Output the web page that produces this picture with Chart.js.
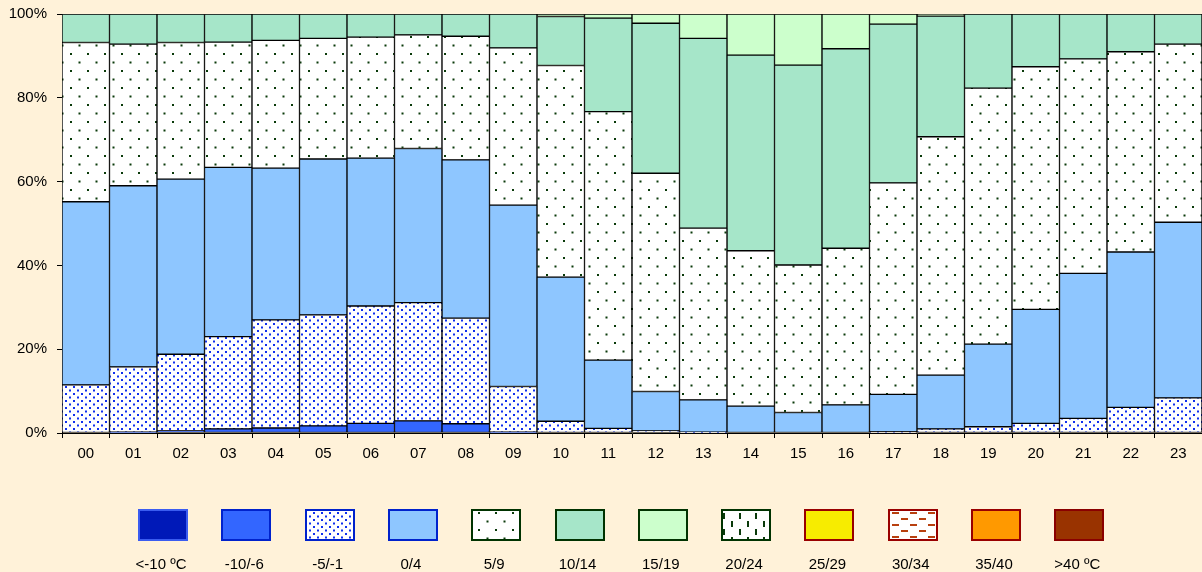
<!DOCTYPE html>
<html>
<head>
<meta charset="utf-8">
<script src="https://cdn.jsdelivr.net/npm/chart.js@4/dist/chart.umd.min.js"></script>
<style>
  html, body { margin: 0; padding: 0; background: #fff2d9; }
  #wrap { width: 1202px; height: 572px; position: relative; }
</style>
</head>
<body>
<div id="wrap"><canvas id="c" width="1202" height="572"></canvas></div>
<script>
// ---- data ----
const hours = ['00','01','02','03','04','05','06','07','08','09','10','11','12','13','14','15','16','17','18','19','20','21','22','23'];
const seriesNames = ['<-10 ºC','-10/-6','-5/-1','0/4','5/9','10/14','15/19','20/24','25/29','30/34','35/40','>40 ºC'];
const yTicks = [0, 20, 40, 60, 80, 100];

const sLt10   = [0,0,0,0,0,0,0,0,0,0,0,0,0,0,0,0,0,0,0,0,0,0,0,0];
const sM10_6  = [0,0.2,0.5,1.0,1.2,1.7,2.3,2.9,2.2,0.2,0,0,0,0,0,0,0,0,0,0,0,0,0,0];
const sM5_1   = [11.5,15.6,18.3,22.0,25.8,26.5,28.0,28.2,25.2,10.9,2.8,1.1,0.5,0.2,0,0,0,0.3,1.0,1.5,2.3,3.5,6.1,8.4];
const s0_4    = [43.7,43.2,41.8,40.4,36.2,37.2,35.3,36.8,37.8,43.3,34.4,16.3,9.4,7.7,6.4,4.9,6.7,8.9,12.8,19.7,27.2,34.6,37.1,41.9];
const s5_9    = [38.0,33.8,32.6,29.9,30.5,28.8,28.9,27.1,29.5,37.5,50.5,59.3,52.1,41.0,37.1,35.2,37.4,50.5,56.9,61.1,57.9,51.2,47.8,42.5];
const s10_14  = [6.8,7.2,6.8,6.7,6.3,5.8,5.5,5.0,5.3,8.1,11.7,22.3,35.8,45.3,46.7,47.7,47.6,37.9,28.8,17.7,12.6,10.7,9.0,7.2];
const s15_19  = [0,0,0,0,0,0,0,0,0,0,0.6,1.0,2.2,5.8,9.8,12.2,8.3,2.4,0.5,0,0,0,0,0];
const s20_24  = [0,0,0,0,0,0,0,0,0,0,0,0,0,0,0,0,0,0,0,0,0,0,0,0];
const s25_29  = [0,0,0,0,0,0,0,0,0,0,0,0,0,0,0,0,0,0,0,0,0,0,0,0];
const s30_34  = [0,0,0,0,0,0,0,0,0,0,0,0,0,0,0,0,0,0,0,0,0,0,0,0];
const s35_40  = [0,0,0,0,0,0,0,0,0,0,0,0,0,0,0,0,0,0,0,0,0,0,0,0];
const sGt40   = [0,0,0,0,0,0,0,0,0,0,0,0,0,0,0,0,0,0,0,0,0,0,0,0];

const seriesData = [sLt10, sM10_6, sM5_1, s0_4, s5_9, s10_14, s15_19, s20_24, s25_29, s30_34, s35_40, sGt40];

// ---- patterns ----
function makePattern(w, h, marks, color) {
  const cv = document.createElement('canvas');
  cv.width = w; cv.height = h;
  const x = cv.getContext('2d');
  x.fillStyle = '#ffffff';
  x.fillRect(0, 0, w, h);
  x.fillStyle = color;
  marks.forEach(m => x.fillRect(m[0], m[1], m[2], m[3]));
  return x.createPattern(cv, 'repeat');
}
const ctx = document.getElementById('c').getContext('2d');
const patBlueDots  = makePattern(8, 7, [[1,1,2,2],[5,4.5,2,2]], '#1030ee');
const patGreenDots = makePattern(17, 17, [[2,2,2,2],[10.5,10.5,2,2]], '#0a3a0a');
const patGreenDash = makePattern(16, 16, [[3,1,2,6],[11,9,2,6]], '#0a3a0a');
const patRedDash   = makePattern(18, 12, [[1,2,7,2],[10,8,7,2]], '#b8400f');

const fills = ['#0019b8', '#3366ff', patBlueDots, '#8ec6ff', patGreenDots, '#a6e6c9', '#ccffcc', patGreenDash, '#f7ec00', patRedDash, '#ff9900', '#993300'];
const legendBorders = ['#3a5cf0', '#0022cc', '#0022cc', '#0022cc', '#003300', '#003300', '#003300', '#003300', '#990000', '#990000', '#990000', '#8a0000'];

const datasets = seriesData.map((d, i) => ({
  label: seriesNames[i],
  data: d,
  backgroundColor: fills[i],
  borderColor: '#000000',
  borderWidth: 1,
  borderSkipped: false,
  categoryPercentage: 1.0,
  barPercentage: 1.0,
  legendBorder: legendBorders[i]
}));

const legendPlugin = {
  id: 'customLegend',
  afterDraw(chart) {
    const c = chart.ctx;
    c.save();
    const step = 83.3;
    const start = 163;
    chart.data.datasets.forEach((ds, i) => {
      const cx = start + i * step;
      const bx = Math.round(cx - 24), by = 510, bw = 48, bh = 30;
      c.fillStyle = ds.backgroundColor;
      c.fillRect(bx, by, bw, bh);
      c.lineWidth = 2;
      c.strokeStyle = ds.legendBorder;
      c.strokeRect(bx, by, bw, bh);
      c.fillStyle = '#000';
      c.font = '15px "Liberation Sans", Arial, sans-serif';
      c.textAlign = 'center';
      c.textBaseline = 'middle';
      c.fillText(ds.label, cx - 2, 565);
    });
    c.restore();
  }
};

Chart.defaults.font.family = '"Liberation Sans", Arial, sans-serif';
Chart.defaults.font.size = 15;
Chart.defaults.color = '#000';

new Chart(ctx, {
  type: 'bar',
  data: { labels: hours, datasets },
  options: {
    responsive: false,
    animation: false,
    layout: { padding: { top: 14, right: 0, left: 0, bottom: 109 } },
    plugins: { legend: { display: false }, tooltip: { enabled: false } },
    scales: {
      x: {
        stacked: true,
        grid: { display: true, drawOnChartArea: false, offset: true, tickLength: 5, color: '#000' },
        border: { display: true, color: '#000', width: 1 },
        ticks: { padding: 7, font: { size: 15 } },
        afterFit(scale) { scale.height = 30; scale.paddingLeft = 0; scale.paddingRight = 0; }
      },
      y: {
        stacked: true,
        min: 0, max: 100,
        afterBuildTicks(scale) { scale.ticks = yTicks.map(v => ({ value: v })); },
        grid: { display: true, drawOnChartArea: false, tickLength: 5, color: '#000' },
        border: { display: true, color: '#000', width: 1 },
        ticks: { padding: 10, callback: v => v + '%', font: { size: 15 } },
        afterFit(scale) { scale.width = 62; scale.paddingTop = 0; scale.paddingBottom = 0; }
      }
    }
  },
  plugins: [legendPlugin]
});
</script>
</body>
</html>
